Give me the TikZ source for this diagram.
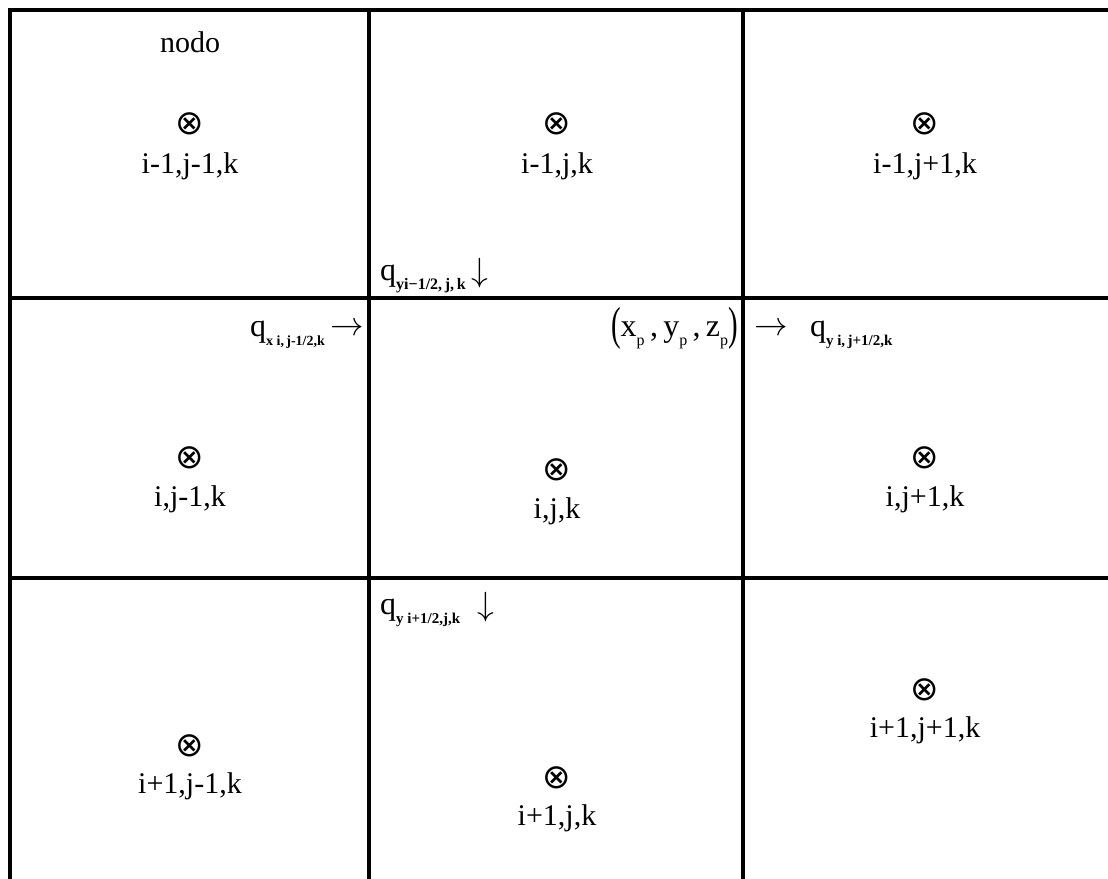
\documentclass[tikz,border=0pt]{standalone}
\usepackage{fontspec}
\setmainfont{Liberation Serif}
\newfontfamily\otfont{DejaVu Sans}
\newcommand{\bigpar}[1]{\raisebox{-0.12em}{\scalebox{0.9}[1.45]{#1}}}
\newcommand{\psub}[1]{\raisebox{-0.3em}{\fontsize{16}{18}\selectfont #1}}
\newcommand{\rarr}{\raisebox{0.02em}{\scalebox{1.35}{$\rightarrow$}}}
\newcommand{\darr}{\raisebox{-0.05em}{\scalebox{1.35}{$\downarrow$}}}
\begin{document}
\begin{tikzpicture}[x=1pt,y=-1pt,
  gridline/.style={line width=3.8pt,line cap=rect},
  txt/.style={inner sep=0pt,font=\fontsize{30}{34}\selectfont},
  sym/.style={inner sep=0pt,font=\otfont\fontsize{34}{38}\selectfont},
  qlbl/.style={inner sep=0pt,font=\fontsize{32}{36}\selectfont}]
\useasboundingbox (0,0) rectangle (1108,878);
\fill[white] (0,0) rectangle (1108,878);
% grid
\draw[gridline] (1108,10) -- (10,10) -- (10,878);
\draw[gridline] (369,10) -- (369,878);
\draw[gridline] (743,10) -- (743,878);
\draw[gridline] (10,298) -- (1108,298);
\draw[gridline] (10,578) -- (1108,578);
% row 1
\node[txt] (nodo) at (190,42) {nodo};
\node[sym] (s11) at (190,124) {⊗};
\node[txt] (l11) at (190,166) {i-1,j-1,k};
\node[sym] (s12) at (557,124) {⊗};
\node[txt] (l12) at (557,166) {i-1,j,k};
\node[sym] (s13) at (925,124) {⊗};
\node[txt] (l13) at (925,166) {i-1,j+1,k};
\node[qlbl,anchor=base west] (qy1) at (380,280) {q\raisebox{-0.3em}{\fontsize{16}{18}\selectfont\bfseries yi−1/2,\,j,\,k}\,\darr};
% row 2
\node[qlbl,anchor=base east] (qx1) at (364,336) {q\raisebox{-0.3em}{\fontsize{14}{16}\selectfont\bfseries x i,\,j-1/2,k}\,\rarr};
\node[qlbl,anchor=base east] (xp) at (738,336) {\bigpar{(}x\psub{p}\,,\,y\psub{p}\,,\,z\psub{p}\bigpar{)}};
\node[qlbl,anchor=base west] (qx2) at (754,336) {\rarr\;\, q\raisebox{-0.3em}{\fontsize{15}{17}\selectfont\bfseries y i,\,j+1/2,k}};
\node[sym] (s21) at (190,458) {⊗};
\node[txt] (l21) at (190,499) {i,j-1,k};
\node[sym] (s22) at (557,470) {⊗};
\node[txt] (l22) at (557,511) {i,j,k};
\node[sym] (s23) at (925,458) {⊗};
\node[txt] (l23) at (925,499) {i,j+1,k};
% row 3
\node[qlbl,anchor=base west] (qy2) at (380,614) {q\raisebox{-0.3em}{\fontsize{15}{17}\selectfont\bfseries y i+1/2,j,k}\;\;\darr};
\node[sym] (s31) at (190,746) {⊗};
\node[txt] (l31) at (190,786) {i+1,j-1,k};
\node[sym] (s32) at (557,778) {⊗};
\node[txt] (l32) at (557,818) {i+1,j,k};
\node[sym] (s33) at (925,690) {⊗};
\node[txt] (l33) at (925,730) {i+1,j+1,k};
\end{tikzpicture}
\end{document}
